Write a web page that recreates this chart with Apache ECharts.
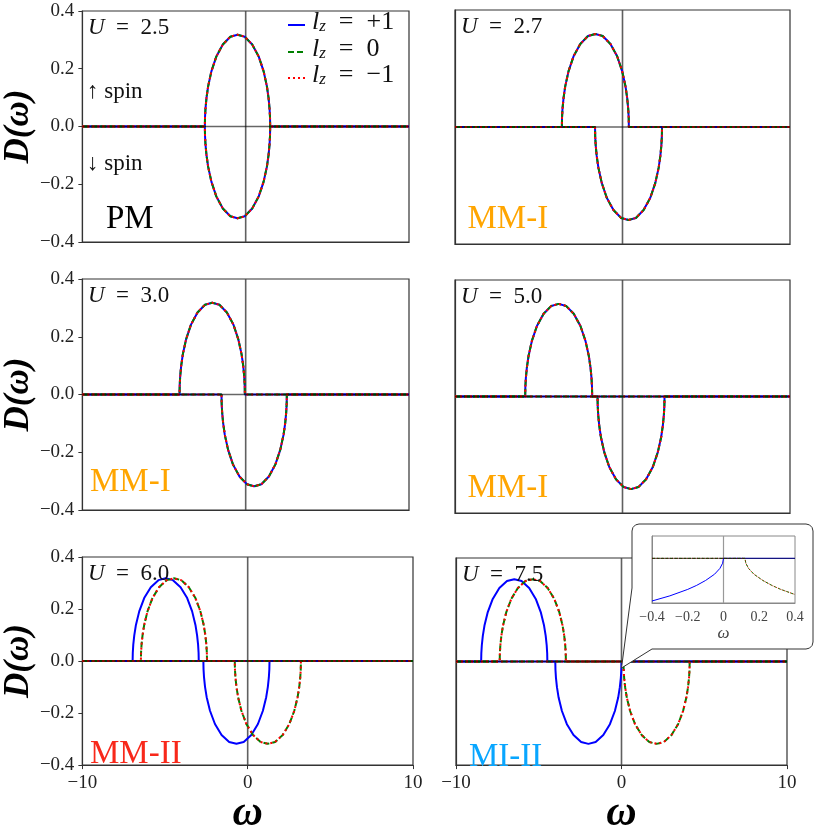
<!DOCTYPE html>
<html><head><meta charset="utf-8">
<script src="https://cdn.jsdelivr.net/npm/echarts@6/dist/echarts.min.js"></script>
<style>html,body{margin:0;padding:0;background:#fff}#c{width:830px;height:836px}</style>
</head><body><div id="c"></div>
<script>
// ================= DATA =================
const uLabels = ['2.5', '2.7', '3.0', '5.0', '6.0', '7.5'];
const phaseLabels = ['PM', 'MM-I', 'MM-I', 'MM-I', 'MM-II', 'MI-II'];
const seriesNames = ['lz=+1', 'lz=0', 'lz=-1'];
const legendValues = ['+1', '0', '\u22121'];
const xTicks = [-10, 0, 10];
const yTicks = [-0.4, -0.2, 0.0, 0.2, 0.4];
const insetXTicks = [-0.4, -0.2, 0, 0.2, 0.4];
const insetYRange = [-0.2, 0.1];

// D(omega) read along each band (same semicircular profile in every panel)
const dosUp   = [0, 0, 0.032, 0.063, 0.099, 0.139, 0.191, 0.242, 0.284, 0.311, 0.318, 0.311, 0.284, 0.242, 0.191, 0.139, 0.099, 0.063, 0.032, 0, 0];
const dosDown = [0, 0, -0.032, -0.063, -0.099, -0.139, -0.191, -0.242, -0.284, -0.311, -0.318, -0.311, -0.284, -0.242, -0.191, -0.139, -0.099, -0.063, -0.032, 0, 0];

// omega positions of those points, per panel / spin / orbital group
const u25W    = [-10, -2.5, -2.49, -2.46, -2.4, -2.3, -2.1, -1.8, -1.4, -0.94, -0.5, -0.06, 0.4, 0.8, 1.1, 1.3, 1.4, 1.46, 1.49, 1.5, 10];
const u27UpW  = [-10, -3.62, -3.61, -3.58, -3.52, -3.42, -3.22, -2.92, -2.52, -2.06, -1.62, -1.18, -0.72, -0.32, -0.02, 0.18, 0.28, 0.34, 0.37, 0.38, 10];
const u27DnW  = [-10, -1.64, -1.63, -1.6, -1.54, -1.44, -1.24, -0.94, -0.54, -0.08, 0.36, 0.8, 1.26, 1.66, 1.96, 2.16, 2.26, 2.32, 2.35, 2.36, 10];
const u30UpW  = [-10, -4.05, -4.04, -4.01, -3.95, -3.85, -3.65, -3.35, -2.95, -2.49, -2.05, -1.61, -1.15, -0.75, -0.45, -0.25, -0.15, -0.09, -0.06, -0.05, 10];
const u30DnW  = [-10, -1.48, -1.47, -1.44, -1.38, -1.28, -1.08, -0.78, -0.38, 0.08, 0.52, 0.96, 1.42, 1.82, 2.12, 2.32, 2.42, 2.48, 2.51, 2.52, 10];
const u50UpW  = [-10, -5.81, -5.8, -5.77, -5.71, -5.61, -5.41, -5.11, -4.71, -4.25, -3.81, -3.37, -2.91, -2.51, -2.21, -2.01, -1.91, -1.85, -1.82, -1.81, 10];
const u50DnW  = [-10, -1.49, -1.48, -1.45, -1.39, -1.29, -1.09, -0.79, -0.39, 0.07, 0.51, 0.95, 1.41, 1.81, 2.11, 2.31, 2.41, 2.47, 2.5, 2.51, 10];
const u60UpW1 = [-10, -6.96, -6.95, -6.92, -6.86, -6.76, -6.56, -6.26, -5.86, -5.4, -4.96, -4.52, -4.06, -3.66, -3.36, -3.16, -3.06, -3.0, -2.97, -2.96, 10];
const u60DnW1 = [-10, -2.68, -2.67, -2.64, -2.58, -2.48, -2.28, -1.98, -1.58, -1.12, -0.68, -0.24, 0.22, 0.62, 0.92, 1.12, 1.22, 1.28, 1.31, 1.32, 10];
const u60UpW0 = [-10, -6.46, -6.45, -6.42, -6.36, -6.26, -6.06, -5.76, -5.36, -4.9, -4.46, -4.02, -3.56, -3.16, -2.86, -2.66, -2.56, -2.5, -2.47, -2.46, 10];
const u60DnW0 = [-10, -0.78, -0.77, -0.74, -0.68, -0.58, -0.38, -0.08, 0.32, 0.78, 1.22, 1.66, 2.12, 2.52, 2.82, 3.02, 3.12, 3.18, 3.21, 3.22, 10];
const u75UpW1 = [-10, -8.48, -8.47, -8.44, -8.38, -8.28, -8.08, -7.78, -7.38, -6.92, -6.48, -6.04, -5.58, -5.18, -4.88, -4.68, -4.58, -4.52, -4.49, -4.48, 10];
const u75DnW1 = [-10, -4.0, -3.99, -3.96, -3.9, -3.8, -3.6, -3.3, -2.9, -2.44, -2.0, -1.56, -1.1, -0.7, -0.4, -0.2, -0.1, -0.04, -0.01, 0, 10];
const u75UpW0 = [-10, -7.36, -7.35, -7.32, -7.26, -7.16, -6.96, -6.66, -6.26, -5.8, -5.36, -4.92, -4.46, -4.06, -3.76, -3.56, -3.46, -3.4, -3.37, -3.36, 10];
const u75DnW0 = [-10, 0.12, 0.13, 0.16, 0.22, 0.32, 0.52, 0.82, 1.22, 1.68, 2.12, 2.56, 3.02, 3.42, 3.72, 3.92, 4.02, 4.08, 4.11, 4.12, 10];

// inset (U = 7.5, zoom around omega = 0)
const insetBlueW = [-0.4, -0.3, -0.2, -0.15, -0.1, -0.05, -0.02, -0.005, 0, 0.4];
const insetBlueD = [-0.191, -0.168, -0.139, -0.121, -0.099, -0.071, -0.045, -0.022, 0, 0];
const insetOrbW  = [-0.4, 0.12, 0.125, 0.14, 0.17, 0.22, 0.27, 0.32, 0.4];
const insetOrbD  = [0, 0, -0.022, -0.045, -0.071, -0.099, -0.121, -0.139, -0.162];

// per panel: [lz=+1 up, lz=+1 down, lz=0/-1 up, lz=0/-1 down]
const panelBands = [
  [u25W, u25W, u25W, u25W],
  [u27UpW, u27DnW, u27UpW, u27DnW],
  [u30UpW, u30DnW, u30UpW, u30DnW],
  [u50UpW, u50DnW, u50UpW, u50DnW],
  [u60UpW1, u60DnW1, u60UpW0, u60DnW0],
  [u75UpW1, u75DnW1, u75UpW0, u75DnW0]
];

// ================= LAYOUT / STYLE =================
const FONT = "'Liberation Serif','DejaVu Serif',serif";
const gridRects = [
  [82, 11, 327, 231], [455, 10, 335, 234],
  [82, 279, 327, 231], [455, 280, 335, 233],
  [82, 557, 331, 221], [456, 558, 331, 220]
];
const phasePos = [[106, 219.5], [467.5, 219], [90, 482.5], [467.5, 488], [90, 754], [469, 757]];
const phaseColors = ['#000000', '#ffa500', '#ffa500', '#ffa500', '#f8281a', '#08a6ff'];
const lineStyles = [
  { color: '#0000ff', type: 'solid', width: 2 },
  { color: '#008000', type: [6, 3], width: 2 },
  { color: '#ff0000', type: [2, 3], width: 2 }
];
const legendRows = [25, 52, 78];
const insetRect = [652, 536, 143, 67];
const EN = '\u2002';

const fmtNum = (v, d) => {
  if (Math.abs(v) < 1e-9) return d === 1 ? '0.0' : '0';
  return (v < 0 ? '\u2212' : '') + Math.abs(v).toFixed(d);
};
const pairs = (w, d) => w.map((x, i) => [x, d[i]]);

const grids = [], xAxes = [], yAxes = [], series = [], graphics = [];

gridRects.forEach((r, i) => {
  const left = i % 2 === 0, bottom = i >= 4;
  grids.push({ left: r[0], top: r[1], width: r[2], height: r[3], show: true,
    borderColor: '#333', borderWidth: 1.2, backgroundColor: 'transparent' });
  xAxes.push({
    gridIndex: i, type: 'value', min: xTicks[0], max: xTicks[xTicks.length - 1],
    interval: xTicks[1] - xTicks[0],
    axisLine: { show: true, onZero: false, lineStyle: { color: '#333', width: 1.2 } },
    splitLine: { show: false },
    axisTick: { show: bottom, inside: false, length: 4, lineStyle: { color: '#333' } },
    axisLabel: { show: bottom, margin: 8, fontFamily: FONT, fontSize: 19, color: '#222',
      formatter: v => fmtNum(v, 0) },
    name: bottom ? '\u03c9' : '', nameLocation: 'middle', nameGap: 44,
    nameTextStyle: { fontFamily: FONT, fontSize: 42, fontWeight: 'bold', fontStyle: 'italic',
      color: '#000', verticalAlign: 'middle' }
  });
  yAxes.push({
    gridIndex: i, type: 'value', min: yTicks[0], max: yTicks[yTicks.length - 1],
    interval: 0.2,
    axisLine: { show: true, onZero: false, lineStyle: { color: '#333', width: 1.2 } },
    splitLine: { show: false },
    axisTick: { show: left, inside: false, length: 4, lineStyle: { color: '#333' } },
    axisLabel: { show: left, margin: 8, fontFamily: FONT, fontSize: 19, color: '#222',
      formatter: v => fmtNum(v, 1) },
    name: left ? 'D(\u03c9)' : '', nameLocation: 'middle', nameGap: 54, nameRotate: 90,
    nameTextStyle: { fontFamily: FONT, fontSize: 35, fontWeight: 'bold', fontStyle: 'italic',
      color: '#000', verticalAlign: 'middle' }
  });

  // vertical zero line (under curves)
  series.push({ type: 'line', xAxisIndex: i, yAxisIndex: i, silent: true, symbol: 'none',
    data: [[0, yTicks[0]], [0, yTicks[yTicks.length - 1]]],
    lineStyle: { color: '#444', width: 1.6, opacity: 0.85 }, animation: false });

  const b = panelBands[i];
  for (let k = 0; k < 3; k++) {
    const up = k === 0 ? b[0] : b[2];
    const dn = k === 0 ? b[1] : b[3];
    [pairs(up, dosUp), pairs(dn, dosDown)].forEach(d => {
      series.push({ name: seriesNames[k], type: 'line', xAxisIndex: i, yAxisIndex: i,
        data: d, symbol: 'none', showSymbol: false, smooth: false,
        itemStyle: { color: lineStyles[k].color },
        lineStyle: Object.assign({}, lineStyles[k]), animation: false });
    });
  }
  // horizontal zero line
  series.push({ type: 'line', xAxisIndex: i, yAxisIndex: i, silent: true, symbol: 'none',
    data: [[xTicks[0], 0], [xTicks[xTicks.length - 1], 0]],
    lineStyle: { color: '#000', width: 1.4, opacity: 0.6 }, animation: false });

  // U label
  graphics.push({ type: 'text', x: r[0] + 6, y: r[1] + 17, z: 100,
    style: { text: '{u|U}{n|' + EN + '=' + EN + uLabels[i] + '}', fill: '#111', verticalAlign: 'middle',
      rich: { u: { fontFamily: FONT, fontStyle: 'italic', fontSize: 23 },
              n: { fontFamily: FONT, fontSize: 23 } } } });
  // phase label
  graphics.push({ type: 'text', x: phasePos[i][0], y: phasePos[i][1], z: 100,
    style: { text: phaseLabels[i], fontFamily: FONT, fontSize: 33, fill: phaseColors[i],
      align: 'left', verticalAlign: 'middle' } });
});

// spin labels
graphics.push({ type: 'text', x: 87, y: 92, z: 100,
  style: { text: '\u2191 spin', fontFamily: FONT, fontSize: 23, fill: '#111', verticalAlign: 'middle' } });
graphics.push({ type: 'text', x: 87, y: 164, z: 100,
  style: { text: '\u2193 spin', fontFamily: FONT, fontSize: 23, fill: '#111', verticalAlign: 'middle' } });

// legend (drawn with the series' own line styles)
lineStyles.forEach((ls, k) => {
  const y = legendRows[k];
  graphics.push({ type: 'line', z: 100,
    shape: { x1: 288, y1: y, x2: 305, y2: y },
    style: { stroke: ls.color, lineWidth: 2, lineDash: ls.type === 'solid' ? null : ls.type } });
  graphics.push({ type: 'text', x: 312, y: y - 3, z: 100,
    style: { text: '{l|l}{z|z}{t|' + EN + '=' + EN + legendValues[k] + '}', fill: '#111',
      verticalAlign: 'middle',
      rich: {
        l: { fontFamily: FONT, fontStyle: 'italic', fontSize: 26 },
        z: { fontFamily: FONT, fontStyle: 'italic', fontSize: 17, padding: [9, 0, 0, 0] },
        t: { fontFamily: FONT, fontSize: 26 }
      } } });
});

// callout box for inset
graphics.push({ type: 'polygon', z: 50,
  shape: { points: [
    [632, 531], [632.9, 527.5], [635.5, 524.9], [639, 524],
    [806, 524], [809.5, 524.9], [812.1, 527.5], [813, 531],
    [813, 642], [812.1, 645.5], [809.5, 648.1], [806, 649],
    [652, 649], [621.5, 668], [632, 588]
  ] },
  style: { fill: '#fff', stroke: '#333', lineWidth: 1 } });

// inset grid
const gi = gridRects.length;
grids.push({ left: insetRect[0], top: insetRect[1], width: insetRect[2], height: insetRect[3],
  show: true, borderColor: '#888', borderWidth: 1, z: 60 });
xAxes.push({ gridIndex: gi, type: 'value', min: insetXTicks[0], max: insetXTicks[insetXTicks.length - 1],
  interval: 0.2, z: 60,
  axisLine: { show: true, onZero: false, lineStyle: { color: '#888', width: 1 } },
  splitLine: { show: false }, axisTick: { show: false },
  axisLabel: { margin: 7, fontFamily: FONT, fontSize: 14, color: '#444', formatter: v => fmtNum(v, Math.abs(v) < 1e-9 ? 0 : 1) },
  name: '\u03c9', nameLocation: 'middle', nameGap: 30,
  nameTextStyle: { fontFamily: FONT, fontSize: 17, fontStyle: 'italic', color: '#444', verticalAlign: 'middle' } });
yAxes.push({ gridIndex: gi, type: 'value', min: insetYRange[0], max: insetYRange[1], interval: 0.1, z: 60,
  axisLine: { show: true, onZero: false, lineStyle: { color: '#888', width: 1 } },
  splitLine: { show: false }, axisTick: { show: false }, axisLabel: { show: false } });
series.push({ type: 'line', xAxisIndex: gi, yAxisIndex: gi, z: 60, silent: true, symbol: 'none',
  data: [[0, insetYRange[0]], [0, insetYRange[1]]], lineStyle: { color: '#999', width: 1.2 }, animation: false });
series.push({ type: 'line', xAxisIndex: gi, yAxisIndex: gi, z: 60, symbol: 'none',
  data: pairs(insetBlueW, insetBlueD), lineStyle: { color: '#0000ff', width: 1 }, animation: false });
series.push({ type: 'line', xAxisIndex: gi, yAxisIndex: gi, z: 60, symbol: 'none',
  data: pairs(insetOrbW, insetOrbD), lineStyle: { color: '#008000', width: 1, type: [3, 1.5] }, animation: false });
series.push({ type: 'line', xAxisIndex: gi, yAxisIndex: gi, z: 60, symbol: 'none',
  data: pairs(insetOrbW, insetOrbD), lineStyle: { color: '#ff0000', width: 1, type: [1, 1.5], opacity: 0.8 }, animation: false });
series.push({ type: 'line', xAxisIndex: gi, yAxisIndex: gi, z: 60, silent: true, symbol: 'none',
  data: [[insetXTicks[0], 0], [insetXTicks[insetXTicks.length - 1], 0]],
  lineStyle: { color: '#000', width: 1, opacity: 0.6 }, animation: false });

const chart = echarts.init(document.getElementById('c'), null, { renderer: 'canvas' });
chart.setOption({
  animation: false,
  backgroundColor: '#fff',
  grid: grids, xAxis: xAxes, yAxis: yAxes, series: series,
  graphic: { elements: graphics }
});
</script></body></html>
